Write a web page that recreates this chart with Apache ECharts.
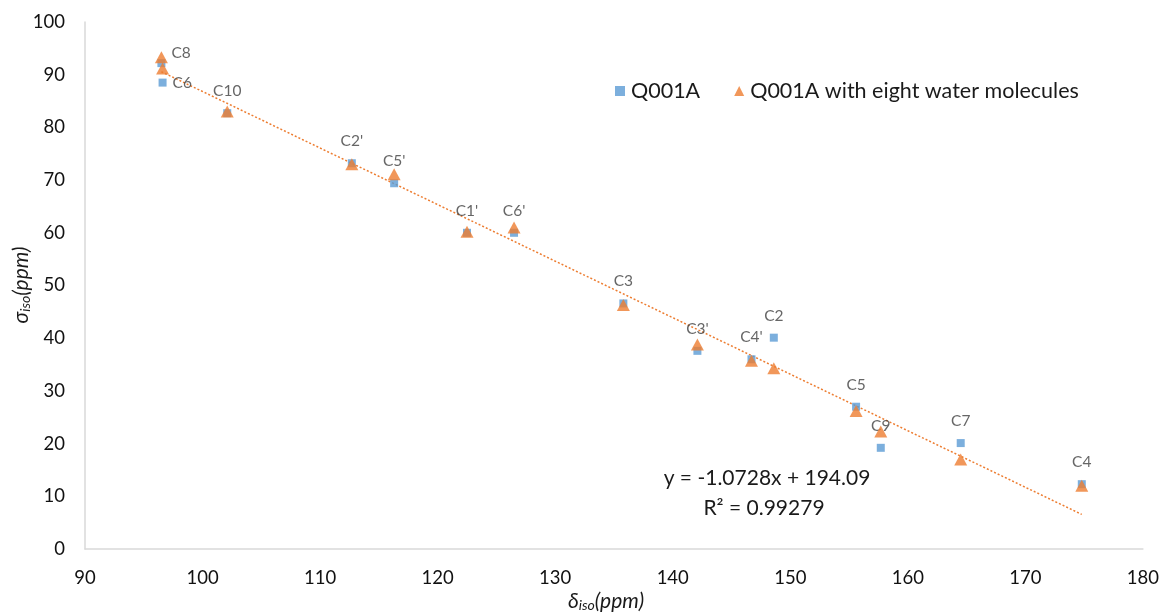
<!DOCTYPE html>
<html>
<head>
<meta charset="utf-8">
<script src="https://cdn.jsdelivr.net/npm/echarts@6/dist/echarts.min.js"></script>
<style>html,body{margin:0;padding:0;background:#fff;}#c{width:1162px;height:613px;}</style>
</head>
<body>
<div id="c"></div>
<script>
// Carbon labels
const labels = ["C8","C6","C10","C2'","C5'","C1'","C6'","C3","C3'","C4'","C2","C5","C9","C7","C4"];
// delta_iso (ppm) x-values
const xVals = [96.5, 96.6, 102.1, 112.7, 116.3, 122.5, 126.5, 135.8, 142.1, 146.7, 148.6, 155.6, 157.7, 164.5, 174.8];
// sigma_iso Q001A
const q001a = [92.2, 88.5, 82.7, 73.2, 69.4, 60.0, 60.0, 46.6, 37.6, 36.0, 40.1, 27.0, 19.2, 20.1, 12.3];
// sigma_iso Q001A with eight water molecules
const q001aWater = [93.3, 91.2, 83.0, 73.0, 71.1, 60.2, 61.0, 46.3, 38.8, 35.7, 34.3, 26.2, 22.3, 17.0, 12.0];
// trendline (as shown on the chart)
const slope = -1.0728, intercept = 194.09, r2 = 0.99279;
const xTicks = [90,100,110,120,130,140,150,160,170,180];
const yTicks = [0,10,20,30,40,50,60,70,80,90,100];

const FONT = 'Lato, "Open Sans", sans-serif';
const blue = '#5B9BD5', orange = '#ED7D31';

const rightLabeled = {"C8": true, "C6": true};
const blueData = xVals.map((x, i) => {
  const item = {value: [x, q001a[i]], name: labels[i]};
  if (rightLabeled[labels[i]]) {
    item.label = {position: 'right', distance: 6, offset: [0, labels[i] === 'C8' ? -10 : 0]};
  }
  return item;
});
const orangeData = xVals.map((x, i) => [x, q001aWater[i]]);
const xMin = Math.min(...xVals), xMax = Math.max(...xVals);
const trend = [[xMin, slope * xMin + intercept], [xMax, slope * xMax + intercept]];

const chart = echarts.init(document.getElementById('c'));
chart.setOption({
  animation: false,
  textStyle: {fontFamily: FONT},
  grid: {left: 85, right: 17, top: 22, bottom: 64, containLabel: false},
  legend: {
    data: [
      {name: 'Q001A', icon: 'rect'},
      {name: 'Q001A with eight water molecules', icon: 'triangle'}
    ],
    left: 610, top: 75, itemWidth: 10, itemHeight: 10, itemGap: 34,
    textStyle: {fontSize: 21.5, color: '#1a1a1a', fontFamily: FONT, padding: [0, 0, 0, 1]}
  },
  xAxis: {
    type: 'value', min: 90, max: 180, interval: 10,
    axisLine: {show: true, lineStyle: {color: '#d9d9d9', width: 1.5}},
    axisTick: {show: false},
    splitLine: {show: false},
    axisLabel: {fontSize: 18.5, color: '#111', margin: 20, fontFamily: FONT}
  },
  yAxis: {
    type: 'value', min: 0, max: 100, interval: 10,
    axisLine: {show: true, lineStyle: {color: '#d9d9d9', width: 1.5}},
    axisTick: {show: false},
    splitLine: {show: false},
    axisLabel: {fontSize: 18.5, color: '#111', margin: 20, fontFamily: FONT}
  },
  series: [
    {
      name: 'Q001A', type: 'scatter', symbol: 'rect', symbolSize: 8,
      itemStyle: {color: blue},
      data: blueData,
      label: {
        show: true, position: 'top', distance: 10,
        formatter: p => p.name,
        fontSize: 15.5, color: '#404040', fontFamily: FONT
      },
      z: 2
    },
    {
      name: 'Q001A with eight water molecules', type: 'scatter', symbol: 'triangle', symbolSize: [13, 12],
      itemStyle: {color: orange},
      data: orangeData,
      z: 3
    },
    {
      name: 'trend', type: 'line', data: trend, symbol: 'none',
      lineStyle: {color: orange, width: 1.5, type: [2, 2]},
      silent: true, z: 1
    }
  ],
  graphic: [
    {
      type: 'text', x: 606, y: 601,
      style: {
        text: '{g|δ}{s|iso}{g|(ppm)}',
        align: 'center', verticalAlign: 'middle',
        rich: {
          g: {fontSize: 21, fontStyle: 'italic', fill: '#1a1a1a', fontFamily: FONT},
          s: {fontSize: 14, fontStyle: 'italic', fill: '#1a1a1a', fontFamily: FONT, padding: [9, 0, 0, 0]}
        }
      }
    },
    {
      type: 'text', x: 21, y: 285, rotation: Math.PI / 2,
      style: {
        text: '{g|σ}{s|iso}{g|(ppm)}',
        align: 'center', verticalAlign: 'middle',
        rich: {
          g: {fontSize: 21, fontStyle: 'italic', fill: '#1a1a1a', fontFamily: FONT},
          s: {fontSize: 14, fontStyle: 'italic', fill: '#1a1a1a', fontFamily: FONT, padding: [9, 0, 0, 0]}
        }
      }
    },
    {
      type: 'text', x: 767, y: 478,
      style: {
        text: 'y = ' + slope + 'x + ' + intercept,
        align: 'center', verticalAlign: 'middle',
        fontSize: 21, fill: '#1a1a1a', fontFamily: FONT
      }
    },
    {
      type: 'text', x: 764, y: 508,
      style: {
        text: 'R² = ' + r2,
        align: 'center', verticalAlign: 'middle',
        fontSize: 21, fill: '#1a1a1a', fontFamily: FONT
      }
    }
  ]
});
</script>
</body>
</html>
